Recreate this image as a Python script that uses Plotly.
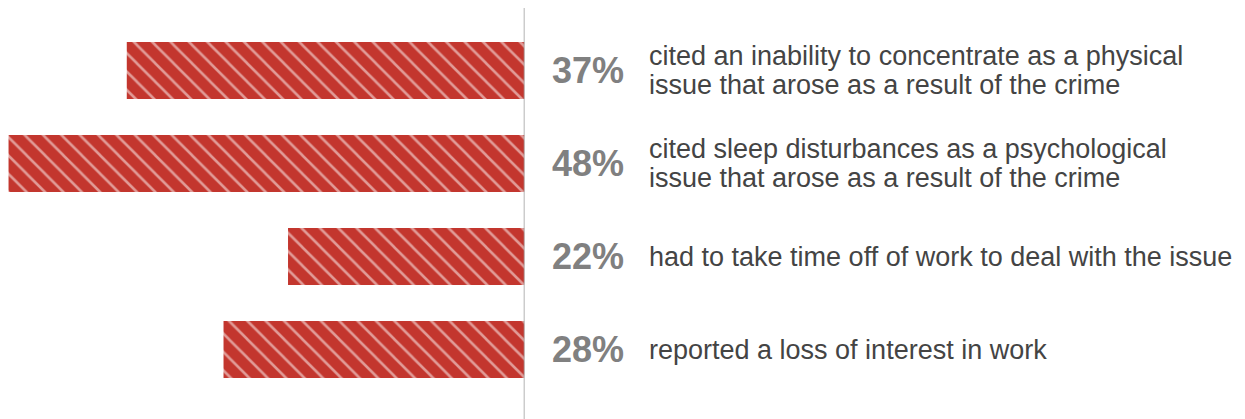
import plotly.graph_objects as go

# Data
values = [37, 48, 22, 28]
positions = [0, 1, 2, 3]
descriptions = [
    ["cited an inability to concentrate as a physical",
     "issue that arose as a result of the crime"],
    ["cited sleep disturbances as a psychological",
     "issue that arose as a result of the crime"],
    ["had to take time off of work to deal with the issue"],
    ["reported a loss of interest in work"],
]

# page body has an 8px margin, so the figure is 8px smaller than the window
W, H = 1237, 411
BAR = "#c3362e"

fig = go.Figure()
fig.add_trace(go.Bar(
    x=values, y=positions, orientation="h", width=0.613,
    marker=dict(color=BAR, line=dict(width=0),
                pattern=dict(shape="\\", fgcolor="white", bgcolor=BAR,
                             size=13, solidity=0.2, fillmode="overlay")),
    hoverinfo="skip", showlegend=False,
))

annotations = []
for v, p, lines in zip(values, positions, descriptions):
    annotations.append(dict(
        x=542 / W, xref="paper", y=p, yref="y", xanchor="left", yanchor="middle",
        text=f"<b>{v}%</b>", showarrow=False,
        font=dict(family="Liberation Sans, Arial, sans-serif", size=36, color="#808080"),
    ))
    n = len(lines)
    for i, line in enumerate(lines):
        shift = (n - 1) * 14.5 - i * 29
        annotations.append(dict(
            x=639 / W, xref="paper", y=p, yref="y", xanchor="left", yanchor="middle",
            yshift=shift, text=line, showarrow=False,
            font=dict(family="Liberation Sans, Arial, sans-serif", size=27, color="#444444"),
        ))

fig.update_layout(
    width=W, height=H,
    margin=dict(l=0, r=0, t=0, b=0),
    paper_bgcolor="white", plot_bgcolor="white",
    xaxis=dict(domain=[0, 516.5 / W], range=[48.05, 0], showgrid=False,
               zeroline=False, showticklabels=False, fixedrange=True),
    yaxis=dict(range=[3.747, -0.672], showgrid=False, zeroline=False,
               showticklabels=False, fixedrange=True),
    annotations=annotations,
    shapes=[dict(type="line", xref="x", x0=0, x1=0, yref="paper", y0=0, y1=1,
                 line=dict(color="#9a9a9a", width=1.5))],
)

fig.write_html("out.html")
